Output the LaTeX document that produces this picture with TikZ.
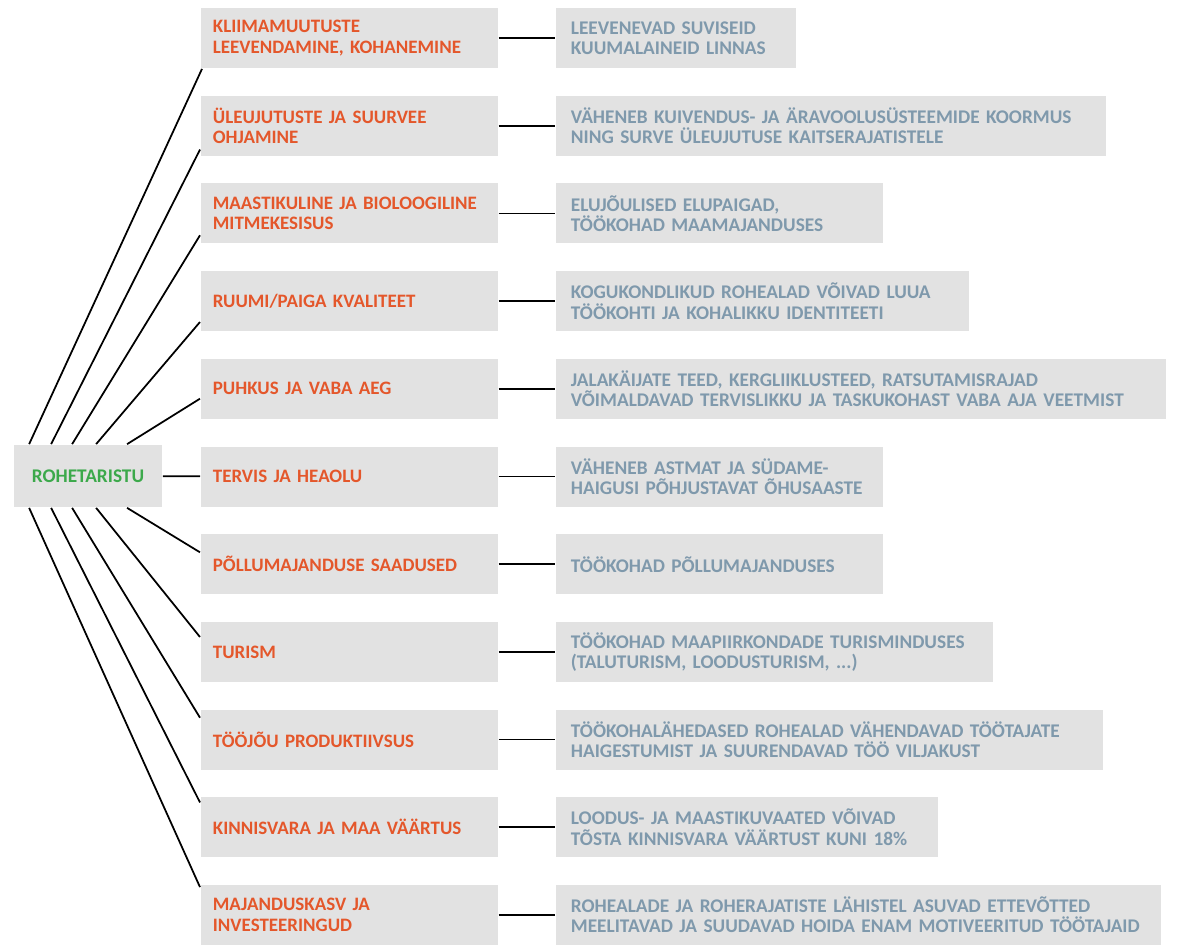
\documentclass[tikz,border=0pt]{standalone}
\usepackage{fontspec}
\setmainfont{Carlito}

\definecolor{boxgray}{HTML}{E2E2E2}
\definecolor{goalorange}{HTML}{E4572B}
\definecolor{gainblue}{HTML}{7F99AC}
\definecolor{rootgreen}{HTML}{3CA94B}

\begin{document}
\begin{tikzpicture}[x=0.02cm,y=-0.02cm,line width=1pt,
	box/.style={fill=boxgray,inner xsep=0.3cm,inner ysep=0pt,minimum height=1.2cm,
		align=left,font=\fontsize{11}{11.6}\selectfont\bfseries},
	root box/.style={box,minimum width=2.96cm,minimum height=1.24cm,align=center,text=rootgreen},
	goal box/.style={box,anchor=west,inner xsep=0.24cm,text width=5.46cm,
		font=\fontsize{10.8}{11.6}\selectfont\bfseries,text=goalorange},
	gain box/.style={box,anchor=west,text width=#1,text=gainblue}]

	\useasboundingbox (0,0) rectangle (1178,947);

	\node[root box] (root) at (88,476) {ROHETARISTU};

	\node[goal box] (m1) at (200,38) {KLIIMAMUUTUSTE\\LEEVENDAMINE, KOHANEMINE};
	\node[goal box] (m2) at (200,125.7) {ÜLEUJUTUSTE JA SUURVEE\\OHJAMINE};
	\node[goal box] (m3) at (200,213.4) {MAASTIKULINE JA BIOLOOGILINE\\MITMEKESISUS};
	\node[goal box] (m4) at (200,301.1) {RUUMI/PAIGA KVALITEET};
	\node[goal box] (m5) at (200,388.8) {PUHKUS JA VABA AEG};
	\node[goal box] (m6) at (200,476.5) {TERVIS JA HEAOLU};
	\node[goal box] (m7) at (200,564.2) {PÕLLUMAJANDUSE SAADUSED};
	\node[goal box] (m8) at (200,651.9) {TURISM};
	\node[goal box] (m9) at (200,739.6) {TÖÖJÕU PRODUKTIIVSUS};
	\node[goal box] (m10) at (200,827.3) {KINNISVARA JA MAA VÄÄRTUS};
	\node[goal box] (m11) at (200,915) {MAJANDUSKASV JA\\INVESTEERINGUD};

	\node[gain box=4.2cm] (g1) at (555,38) {LEEVENEVAD SUVISEID\\KUUMALAINEID LINNAS};
	\node[gain box=10.4cm] (g2) at (555,125.7) {VÄHENEB KUIVENDUS- JA ÄRAVOOLUSÜSTEEMIDE KOORMUS\\NING SURVE ÜLEUJUTUSE KAITSERAJATISTELE};
	\node[gain box=5.94cm] (g3) at (555,213.4) {ELUJÕULISED ELUPAIGAD,\\TÖÖKOHAD MAAMAJANDUSES};
	\node[gain box=7.66cm] (g4) at (555,301.1) {KOGUKONDLIKUD ROHEALAD VÕIVAD LUUA\\TÖÖKOHTI JA KOHALIKKU IDENTITEETI};
	\node[gain box=11.6cm] (g5) at (555,388.8) {JALAKÄIJATE TEED, KERGLIIKLUSTEED, RATSUTAMISRAJAD\\VÕIMALDAVAD TERVISLIKKU JA TASKUKOHAST VABA AJA VEETMIST};
	\node[gain box=5.94cm] (g6) at (555,476.5) {VÄHENEB ASTMAT JA SÜDAME-\\HAIGUSI PÕHJUSTAVAT ÕHUSAASTE};
	\node[gain box=5.94cm] (g7) at (555,564.2) {TÖÖKOHAD PÕLLUMAJANDUSES};
	\node[gain box=8.14cm] (g8) at (555,651.9) {TÖÖKOHAD MAAPIIRKONDADE TURISMINDUSES\\(TALUTURISM, LOODUSTURISM, ...)};
	\node[gain box=10.34cm] (g9) at (555,739.6) {TÖÖKOHALÄHEDASED ROHEALAD VÄHENDAVAD TÖÖTAJATE\\HAIGESTUMIST JA SUURENDAVAD TÖÖ VILJAKUST};
	\node[gain box=7.04cm] (g10) at (555,827.3) {LOODUS- JA MAASTIKUVAATED VÕIVAD\\TÕSTA KINNISVARA VÄÄRTUST KUNI 18\%};
	\node[gain box=11.5cm] (g11) at (555,915) {ROHEALADE JA ROHERAJATISTE LÄHISTEL ASUVAD ETTEVÕTTED\\MEELITAVAD JA SUUDAVAD HOIDA ENAM MOTIVEERITUD TÖÖTAJAID};

	% fan from the root box
	\path
	([xshift=0.32cm]root.north west) edge ([xshift=0.04cm]m1.south west)
	([xshift=0.76cm]root.north west) edge ([yshift=0.14cm]m2.south west)
	([xshift=1.18cm]root.north west) edge ([yshift=0.18cm]m3.south west)
	([xshift=1.66cm]root.north west) edge ([yshift=0.2cm]m4.south west)
	([xshift=2.28cm]root.north west) edge ([yshift=0.42cm]m5.south west)
	(root) edge (m6)
	([xshift=2.28cm]root.south west) edge ([yshift=-0.38cm]m7.north west)
	([xshift=1.66cm]root.south west) edge ([yshift=-0.32cm]m8.north west)
	([xshift=1.18cm]root.south west) edge ([yshift=-0.18cm]m9.north west)
	([xshift=0.76cm]root.south west) edge ([yshift=-0.12cm]m10.north west)
	([xshift=0.32cm]root.south west) edge ([yshift=-0.06cm]m11.north west);

	% goal to gain
	\path
	(m1) edge (g1) (m2) edge (g2) (m3) edge (g3) (m4) edge (g4)
	(m5) edge (g5) (m6) edge (g6) (m7) edge (g7) (m8) edge (g8)
	(m9) edge (g9) (m10) edge (g10) (m11) edge (g11);
\end{tikzpicture}
\end{document}
